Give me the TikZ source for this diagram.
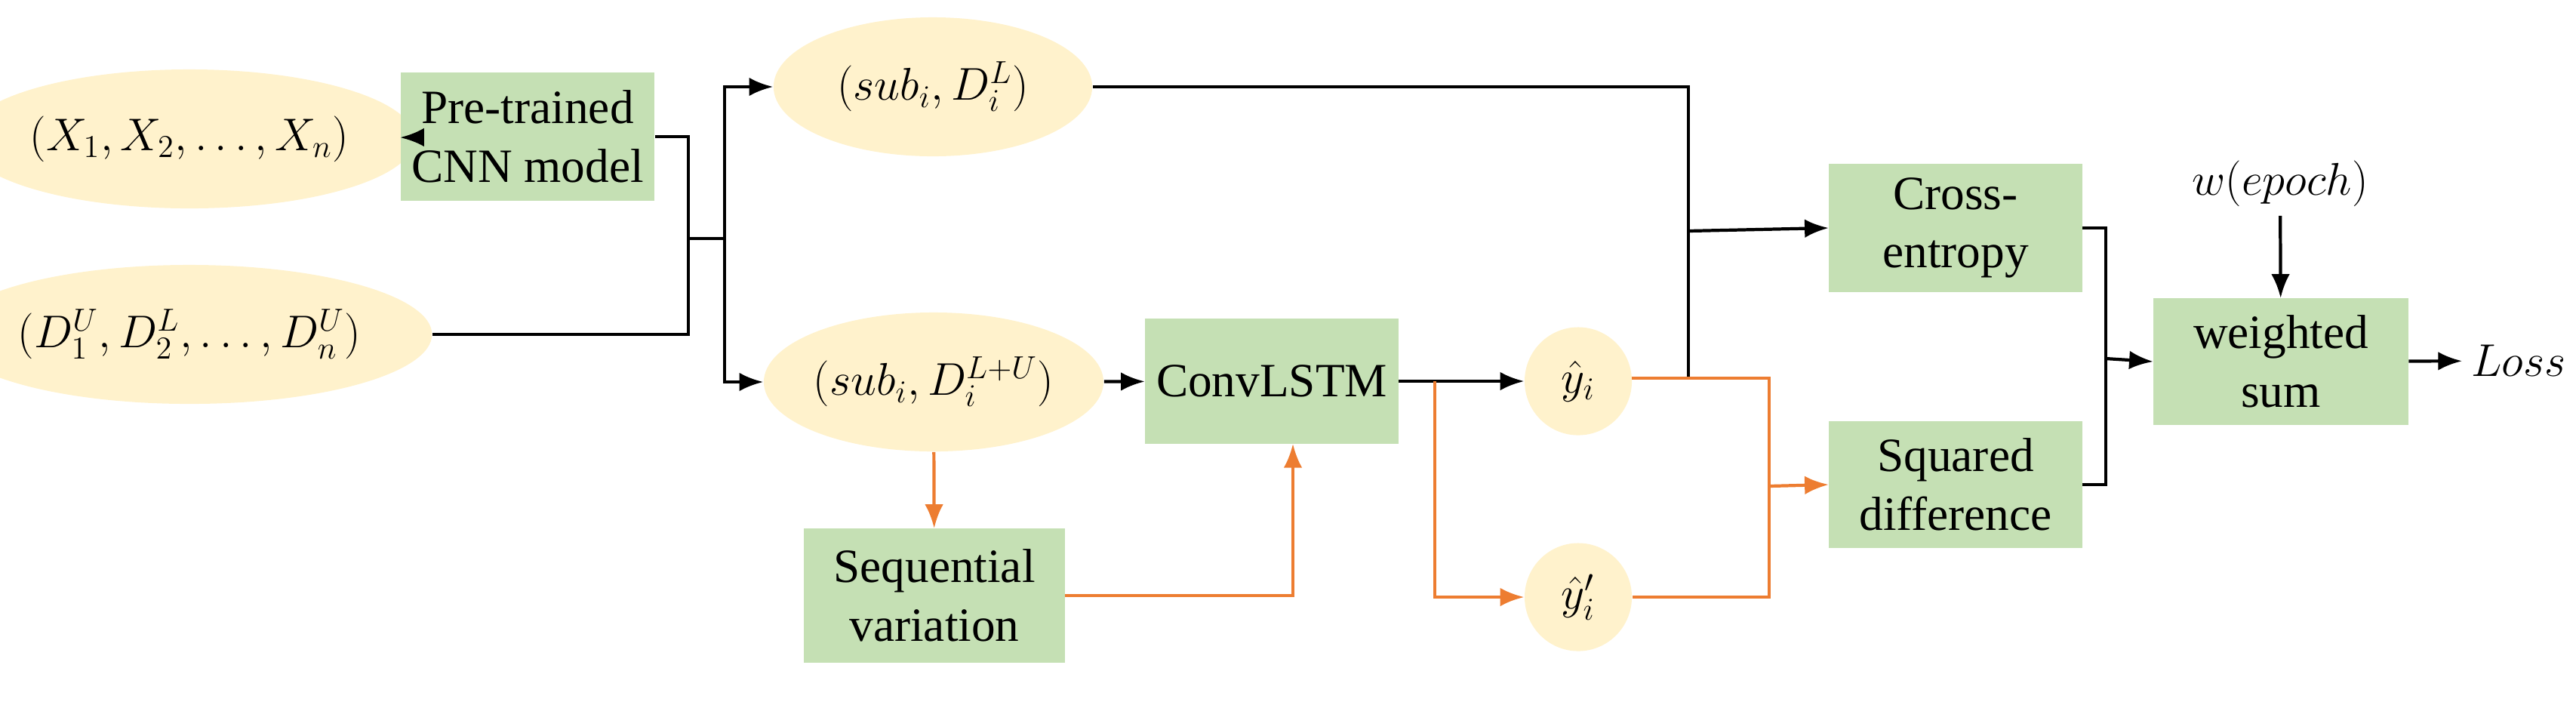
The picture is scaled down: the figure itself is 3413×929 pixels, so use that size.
\documentclass[tikz,border=0pt]{standalone}
\usepackage{fontspec}
\setmainfont{Liberation Serif}
\usetikzlibrary{shapes.geometric,arrows.meta}
\definecolor{ell}{HTML}{FFF2CC}
\definecolor{box}{HTML}{C5E0B4}
\definecolor{org}{HTML}{ED7D31}
\begin{document}
\begin{tikzpicture}[x=0.01cm,y=-0.01cm,
  el/.style={ellipse,fill=ell,draw=none,inner sep=0pt},
  bx/.style={rectangle,fill=box,draw=none,align=center,inner sep=0pt,font=\fontsize{18}{22}\selectfont},
  ar/.style={-{Latex[length=9pt,width=7pt]},line width=1.2pt},
  ln/.style={line width=1.2pt},
  oar/.style={ar,org},
  oln/.style={ln,org},
  mt/.style={font=\fontsize{18}{22}\selectfont}]
\useasboundingbox (0,0) rectangle (3413,929);
\node[el,minimum width=4.2cm,minimum height=1.84cm,mt] (x) at (251,184) {$(X_1,X_2,\dots,X_n)$};
\node[el,minimum width=4.2cm,minimum height=1.84cm,mt] (d) at (251,443) {$(D_1^U,D_2^L,\dots,D_n^U)$};
\node[bx,minimum width=3.36cm,minimum height=1.69cm] (cnn) at (699,181) {Pre-trained\\CNN model};
\node[el,minimum width=4.22cm,minimum height=1.84cm,mt] (sl) at (1236,115) {$\bigl(sub_i,D_i^L\bigr)$};
\node[el,minimum width=4.2cm,minimum height=1.84cm,mt] (slu) at (1237,506) {$\bigl(sub_i,D_i^{L+U}\bigr)$};
\node[bx,minimum width=3.35cm,minimum height=1.66cm] (conv) at (1685,505) {ConvLSTM};
\node[bx,minimum width=3.45cm,minimum height=1.77cm] (seq) at (1238,789) {Sequential\\variation};
\node[el,minimum width=1.42cm,minimum height=1.43cm,mt] (y) at (2091,505) {$\hat y_i$};
\node[el,minimum width=1.42cm,minimum height=1.43cm,mt] (yp) at (2091,791) {$\hat y_i'$};
\node[bx,minimum width=3.35cm,minimum height=1.7cm] (ce) at (2591,302) {Cross-\\entropy};
\node[bx,minimum width=3.35cm,minimum height=1.68cm] (sq) at (2591,642) {Squared\\difference};
\node[bx,minimum width=3.37cm,minimum height=1.67cm] (ws) at (3022,479) {weighted\\sum};
\node[mt] (w) at (3021,243) {$w(epoch)$};
\node[mt,anchor=west] (loss) at (3262,478) {$Loss$};
\coordinate (j1) at (912,316);
\coordinate (j2) at (960,316);
\coordinate (jc) at (2237,306);
\coordinate (jcb) at (2237,501);
\coordinate (jo) at (1901,505);
\coordinate (js) at (2344,644);
\coordinate (jst) at (2344,501);
\coordinate (jr) at (2790,475);
\coordinate (cb) at (1713,588);
\coordinate (ye) at (2162,501);
% black
\draw[ar] (x) -- (cnn);
\draw[ln] (cnn.east) -| (j1) -- (j2);
\draw[ln] (d.east) -| (j1);
\draw[ar] (j2) |- (sl.west);
\draw[ar] (j2) |- (slu.west);
\draw[ar] (slu) -- (conv);
\draw[ar] (conv) -- (y);
\draw[ln] (sl.east) -| (jc);
\draw[ln] (jc) -- (jcb);
\draw[ar] (jc) -- (ce.west);
\draw[ln] (ce.east) -| (jr);
\draw[ln] (sq.east) -| (jr);
\draw[ar] (jr) -- (ws.west);
\draw[ar] (w) -- (ws);
\draw[ar] (ws) -- (loss);
% orange
\draw[oar] (slu) -- (seq);
\draw[oar] (seq.east) -| (cb);
\draw[oar] (jo) |- (yp.west);
\draw[oln] (ye) -- (jst) -- (js) |- (yp.east);
\draw[oar] (js) -- (sq.west);
\end{tikzpicture}
\end{document}
